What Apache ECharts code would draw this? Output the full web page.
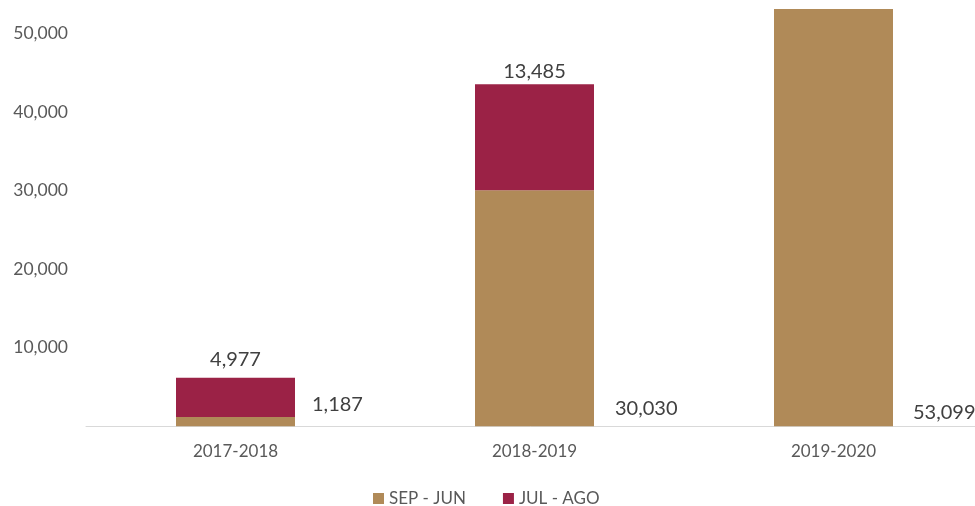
<!DOCTYPE html>
<html>
<head>
<meta charset="utf-8">
<script src="https://cdn.jsdelivr.net/npm/echarts@6/dist/echarts.min.js"></script>
<style>html,body{margin:0;padding:0;background:#fff}#c{width:975px;height:506px}</style>
</head>
<body>
<div id="c"></div>
<script>
var categories = ['2017-2018', '2018-2019', '2019-2020'];
var sepJun = [1187, 30030, 53099];
var julAgo = [4977, 13485, null];
var seriesNames = ['SEP - JUN', 'JUL - AGO'];
var yTicks = [0, 10000, 20000, 30000, 40000, 50000, 60000];

var FONT = 'Lato';
var fmt = function (v) { return Number(v).toLocaleString('en-US'); };

// per-category label tweaks (layout only)
var sideOffsets = [[17, -22], [21, -18], [20, -14]];
var topDistances = [8, 3, 5];

var chart = echarts.init(document.getElementById('c'), null, {renderer: 'canvas'});
chart.setOption({
  animation: false,
  backgroundColor: '#ffffff',
  grid: {left: 86, right: -8, top: -45.3, bottom: 79.7, containLabel: false, outerBoundsMode: 'none'},
  legend: {
    data: seriesNames,
    left: 368, top: 485,
    itemWidth: 11, itemHeight: 11, itemGap: 37,
    icon: 'rect',
    textStyle: {fontFamily: FONT, fontSize: 17, color: '#595959'}
  },
  xAxis: {
    type: 'category',
    data: categories,
    axisLine: {lineStyle: {color: '#d9d9d9', width: 1}},
    axisTick: {show: false},
    axisLabel: {fontFamily: FONT, fontSize: 17, color: '#595959', margin: 17}
  },
  yAxis: {
    type: 'value',
    min: yTicks[0], max: yTicks[yTicks.length - 1], interval: yTicks[1] - yTicks[0],
    axisLine: {show: false},
    axisTick: {show: false},
    splitLine: {show: false},
    axisLabel: {
      fontFamily: FONT, fontSize: 17.5, color: '#595959', margin: 18,
      formatter: function (v) { return v === 0 ? '' : fmt(v); }
    }
  },
  series: [
    {
      name: seriesNames[0], type: 'bar', stack: 'a', barWidth: 119,
      itemStyle: {color: '#B08A58'},
      data: sepJun.map(function (v, i) {
        return {
          value: v,
          label: {
            show: true, position: ['100%', '100%'], offset: sideOffsets[i],
            align: 'left', verticalAlign: 'middle',
            fontFamily: FONT, fontSize: 20, color: '#404040',
            formatter: function (p) { return fmt(p.value); }
          }
        };
      })
    },
    {
      name: seriesNames[1], type: 'bar', stack: 'a', barWidth: 119,
      itemStyle: {color: '#9B2246'},
      data: julAgo.map(function (v, i) {
        return {
          value: v,
          label: {
            show: v != null, position: 'top', distance: topDistances[i],
            fontFamily: FONT, fontSize: 20, color: '#404040',
            formatter: function (p) { return fmt(p.value); }
          }
        };
      })
    }
  ]
});
</script>
</body>
</html>
